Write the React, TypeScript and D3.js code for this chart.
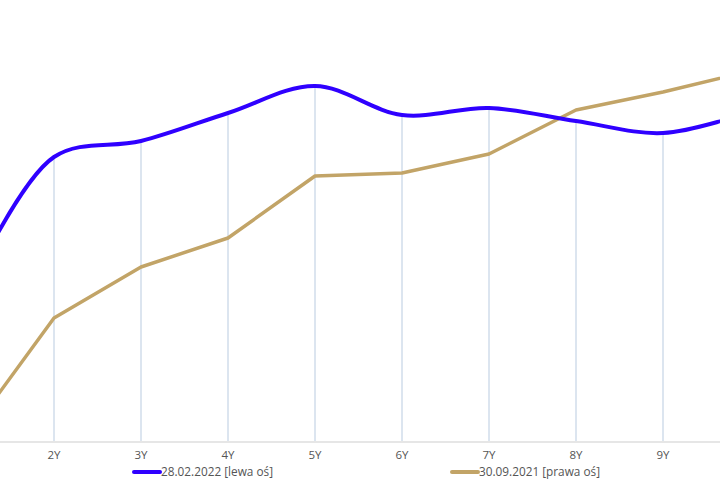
import * as d3 from 'd3';
import React, { useEffect, useRef } from 'react';

// tenors and yields
const tenors = ['1Y', '2Y', '3Y', '4Y', '5Y', '6Y', '7Y', '8Y', '9Y', '10Y'];
const feb2022 = [3.24, 3.92, 4.0, 4.14, 4.275, 4.13, 4.165, 4.1, 4.04, 4.145]; // lewa oś
const sep2021 = [0.52, 1.115, 1.37, 1.515, 1.825, 1.84, 1.935, 2.155, 2.245, 2.35]; // prawa oś
const legendLabels = ['28.02.2022 [lewa oś]', '30.09.2021 [prawa oś]'];

const BLUE = '#2f00ff';
const GOLD = '#c2a467';

const App = () => {
  const svgRef = useRef<SVGSVGElement>(null);

  useEffect(() => {
    const svg = d3.select(svgRef.current);
    svg.selectAll('*').remove();
    const width = 720;
    const bottom = 441;

    const x = d3.scalePoint().domain(tenors).range([-33, 750]);
    const yLeft = d3.scaleLinear().domain([2.5, 4.5]).range([bottom, 41]);
    const yRight = d3.scaleLinear().domain([0.5, 2.5]).range([bottom, 41]);

    // vertical grid lines from the blue series down to the axis
    svg.append('g')
      .selectAll('line')
      .data(tenors)
      .enter()
      .append('line')
        .attr('x1', d => x(d)!)
        .attr('x2', d => x(d)!)
        .attr('y1', (d, i) => yLeft(feb2022[i]))
        .attr('y2', bottom)
        .attr('stroke', '#b9cbe0')
        .attr('stroke-width', 1);

    // x axis line
    svg.append('line')
      .attr('x1', 0).attr('x2', width)
      .attr('y1', bottom + 1).attr('y2', bottom + 1)
      .attr('stroke', '#e6e6e6')
      .attr('stroke-width', 2);

    // only labels that fall inside the visible area (1Y and 10Y sit off-screen)
    svg.append('g')
      .selectAll('text')
      .data(tenors.filter(d => x(d)! > 10 && x(d)! < width - 10))
      .enter()
      .append('text')
        .attr('x', d => x(d)!)
        .attr('y', 459)
        .attr('text-anchor', 'middle')
        .style('font-family', '"Open Sans", sans-serif')
        .style('font-size', '11.5px')
        .style('fill', '#555')
        .text(d => d);

    const goldLine = d3.line<number>()
      .x((d, i) => x(tenors[i])!)
      .y(d => yRight(d));
    svg.append('path')
      .attr('d', goldLine(sep2021))
      .attr('fill', 'none')
      .attr('stroke', GOLD)
      .attr('stroke-width', 3.5)
      .attr('stroke-linejoin', 'round');

    const blueLine = d3.line<number>()
      .x((d, i) => x(tenors[i])!)
      .y(d => yLeft(d))
      .curve(d3.curveCatmullRom.alpha(0.5));
    svg.append('path')
      .attr('d', blueLine(feb2022))
      .attr('fill', 'none')
      .attr('stroke', BLUE)
      .attr('stroke-width', 4)
      .attr('stroke-linecap', 'round');

    // legend
    const legend = [
      { label: legendLabels[0], color: BLUE, x: 134 },
      { label: legendLabels[1], color: GOLD, x: 452 },
    ];
    const lg = svg.append('g')
      .selectAll('g')
      .data(legend)
      .enter()
      .append('g')
        .attr('transform', d => `translate(${d.x},472)`);
    lg.append('line')
      .attr('x1', 0).attr('x2', 26)
      .attr('stroke', d => d.color)
      .attr('stroke-width', 4)
      .attr('stroke-linecap', 'round');
    lg.append('text')
      .attr('x', 27)
      .attr('y', 4)
      .style('font-family', '"Open Sans", sans-serif')
      .style('font-size', '11.8px')
      .style('fill', '#555')
      .text(d => d.label);
  }, []);

  return (
    <div>
      <style>{'body{margin:0}'}</style>
      <svg ref={svgRef} width="720" height="500" style={{ display: 'block' }}></svg>
    </div>
  );
};

export default App;
